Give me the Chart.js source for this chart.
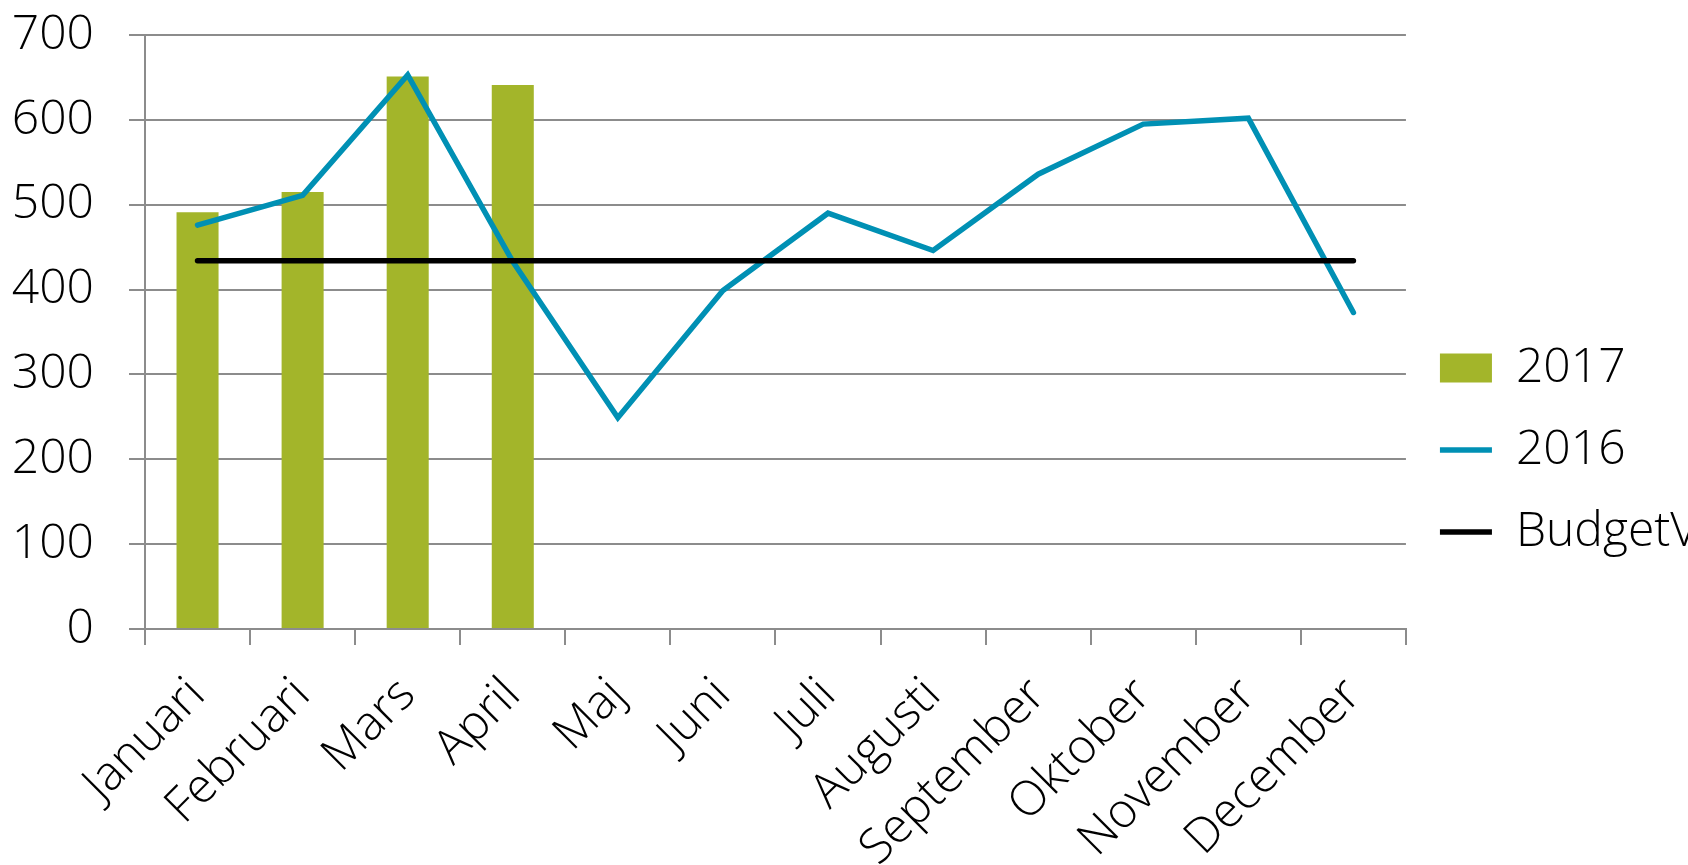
<!DOCTYPE html>
<html>
<head>
<meta charset="utf-8">
<script src="https://cdn.jsdelivr.net/npm/chart.js@4"></script>
<style>
  body { margin: 0; background: #fff; }
  #wrap { width: 1688px; height: 865px; }
</style>
</head>
<body>
<div id="wrap"><canvas id="chart" width="1688" height="865"></canvas></div>
<script>
// Månader
const months = ['Januari', 'Februari', 'Mars', 'April', 'Maj', 'Juni', 'Juli',
    'Augusti', 'September', 'Oktober', 'November', 'December'];

// Values
const values2017 = [491, 515, 651, 641, null, null, null, null, null, null, null, null];
const values2016 = [476, 511, 653, 433, 249, 399, 490, 446, 536, 595, 602, 373];
const budgetV = [434, 434, 434, 434, 434, 434, 434, 434, 434, 434, 434, 434];

const yTicks = [0, 100, 200, 300, 400, 500, 600, 700];

const GRID = '#8c8c8c';
const FONT = { family: "'Open Sans', 'Noto Sans', sans-serif", size: 48, weight: 300 };

const ctx = document.getElementById('chart').getContext('2d');

new Chart(ctx, {
    type: 'bar',
    data: {
        labels: months,
        datasets: [
            {
                label: '2017',
                data: values2017,
                backgroundColor: '#a3b52a',
                borderWidth: 0,
                barPercentage: 0.4,
                categoryPercentage: 1,
                pointStyle: 'rect',
                order: 3
            },
            {
                type: 'line',
                label: '2016',
                data: values2016,
                borderColor: '#0090b4',
                backgroundColor: '#0090b4',
                borderWidth: 5.5,
                borderCapStyle: 'round',
                pointRadius: 0,
                tension: 0,
                pointStyle: 'line',
                order: 2
            },
            {
                type: 'line',
                label: 'BudgetV',
                data: budgetV,
                borderColor: '#000000',
                backgroundColor: '#000000',
                borderWidth: 5.5,
                borderCapStyle: 'round',
                pointRadius: 0,
                tension: 0,
                pointStyle: 'line',
                order: 1
            }
        ]
    },
    options: {
        responsive: false,
        animation: false,
        devicePixelRatio: 1,
        layout: {
            padding: { top: 35, right: -20, bottom: 0, left: 0 }
        },
        plugins: {
            tooltip: { enabled: false },
            legend: {
                position: 'right',
                align: 'center',
                labels: {
                    color: '#000',
                    font: FONT,
                    usePointStyle: true,
                    pointStyleWidth: 52,
                    boxHeight: 29,
                    padding: 34,
                    sort: (a, b) => a.datasetIndex - b.datasetIndex
                }
            }
        },
        scales: {
            x: {
                offset: true,
                grid: {
                    offset: true,
                    drawOnChartArea: false,
                    drawTicks: true,
                    tickLength: 16,
                    color: GRID,
                    lineWidth: 2
                },
                border: { color: GRID, width: 2 },
                ticks: {
                    color: '#000',
                    font: FONT,
                    minRotation: 45,
                    maxRotation: 45,
                    autoSkip: false,
                    padding: 22
                },
                afterFit: (scale) => { scale.height = 236; }
            },
            y: {
                min: 0,
                max: 700,
                afterBuildTicks: (scale) => {
                    scale.ticks = yTicks.map(v => ({ value: v }));
                },
                grid: {
                    color: GRID,
                    lineWidth: 2,
                    tickLength: 16
                },
                border: { color: GRID, width: 2 },
                ticks: {
                    color: '#000',
                    font: FONT,
                    padding: 35
                },
                afterFit: (scale) => {
                    scale.width = 145;
                    scale.paddingTop = 0;
                    scale.paddingBottom = 0;
                }
            }
        }
    }
});
</script>
</body>
</html>
